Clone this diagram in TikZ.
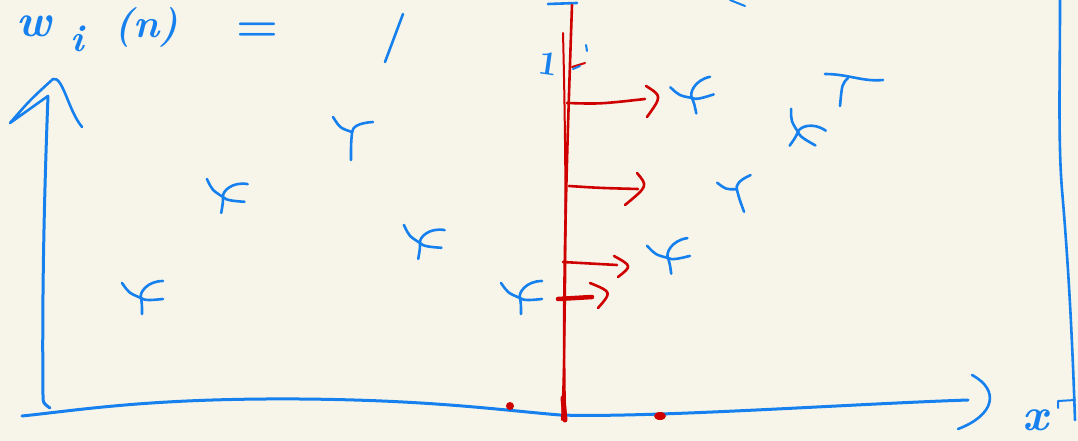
\documentclass[tikz,border=0pt]{standalone}
\usetikzlibrary{calc}
\definecolor{paper}{RGB}{247,245,234}
\definecolor{inkblue}{RGB}{22,128,238}
\definecolor{inkred}{RGB}{206,0,0}

\tikzset{
  bluepen/.style={draw=inkblue, line width=2.6pt, line cap=round, line join=round},
  redpen/.style={draw=inkred, line width=2.6pt, line cap=round, line join=round},
  hand/.style={text=inkblue, inner sep=0pt, font=\fontsize{46}{46}\selectfont\bfseries\itshape},
  % a sample point, written as two crossing strokes
  cross/.pic={
    \draw[bluepen] (-19,-15) .. controls (-12,-5) .. (0,0) .. controls (1,6) .. (1,16);
    \draw[bluepen] (22,-17) .. controls (6,-17) and (-2,-5) .. (0,0) .. controls (3,3) and (12,2) .. (22,1);
  },
  ymark/.pic={
    \draw[bluepen] (-19,-16) .. controls (-12,-5) .. (0,-1);
    \draw[bluepen] (21,-11) .. controls (6,-10) and (0,-6) .. (0,0) .. controls (-1,10) .. (-1,27);
  },
  tmark/.pic={
    \draw[bluepen] (-23,-4) .. controls (0,-4) and (15,4) .. (35,2);
    \draw[bluepen] (0,0) .. controls (-6,6) .. (-8,28);
  }
}

\begin{document}
\begin{tikzpicture}[x=1pt, y=-1pt]
\fill[paper] (0,0) rectangle (1078,441);
\useasboundingbox (0,0) rectangle (1078,441);
\clip (0,0) rectangle (1078,441);

% ---------------- handwritten heading ----------------
\node[hand, anchor=base west] (wsym) at (16,37) {w};
\node[hand, anchor=base west, font=\fontsize{38}{38}\selectfont\bfseries\itshape] (isub) at (70,52) {i};
\node[hand, anchor=base west, font=\fontsize{40}{40}\selectfont\bfseries\itshape] (nsup) at (114,38) {(n)};
\node[hand, anchor=base west, font=\fontsize{48}{48}\selectfont\bfseries] (eqsign) at (236,42) {=};
\node[hand, anchor=base west, font=\fontsize{34}{34}\selectfont\bfseries, rotate=-8] (onelabel) at (537,73) {1};
\draw[bluepen] (385,62) -- (403,14);
\draw[bluepen] (548,4) -- (577,3);
\draw[bluepen, line width=2pt] (730,0) .. controls (738,3) .. (745,6);
\draw[bluepen, line width=2pt] (586,45) -- (587,51);

% ---------------- axes and frame ----------------
\coordinate (origin) at (43,405);
\coordinate (ytop) at (48,96);
\coordinate (xend) at (968,400);
\draw[bluepen, line width=3pt] (ytop) .. controls (44,200) and (42,300) .. (43,395) .. controls (43,403) .. (50,408);
\draw[bluepen] (ytop) -- (10,123) .. controls (30,100) .. (53,79) .. controls (63,76) and (68,110) .. (82,127);
\draw[bluepen, line width=3pt] (22,416) .. controls (80,410) and (150,398) .. (300,399)
  .. controls (430,400) and (500,410) .. (560,415) .. controls (650,418) and (850,404) .. (xend);
\draw[bluepen] (972,375) .. controls (1000,390) and (995,415) .. (958,429);
\draw[bluepen] (1060,-2) .. controls (1060,80) and (1058,140) .. (1062,190) .. controls (1068,260) and (1072,330) .. (1075,420);
\draw[bluepen, line width=2pt] (1058,408) -- (1058,401) -- (1075,400);
\node[hand, anchor=base west, font=\fontsize{46}{46}\selectfont\bfseries\itshape] (xlabel) at (1022,430) {x};

% ---------------- sample points ----------------
\pic at (141,298) {cross};
\pic[rotate=-10] at (223,197) {cross};
\pic at (352,133) {ymark};
\pic[rotate=-10] at (420,243) {cross};
\pic at (520,298) {cross};
\pic[rotate=12] at (692,98) {cross};
\pic[rotate=-35] at (798,132) {cross};
\pic at (848,78) {tmark};
\pic[rotate=20, scale=0.85] at (737,190) {ymark};
\pic[rotate=8] at (668,258) {cross};

% ---------------- red split line with arrows ----------------
\coordinate (rtop) at (572,5);
\coordinate (rbot) at (565,420);
\draw[redpen] (rtop) .. controls (567,150) and (562,300) .. (rbot);
\draw[redpen, line width=2pt] (563,33) .. controls (566,150) and (567,300) .. (562,420);
\draw[redpen, line width=5pt] (563,398) -- (565,420);
\draw[redpen, line width=2pt] (572,67) -- (585,63);
\draw[bluepen, line width=2pt] (573,69) -- (580,66);

\coordinate (r1) at (567,103);
\coordinate (r2) at (569,186);
\coordinate (r3) at (563,262);
\coordinate (r4) at (558,299);
\draw[redpen] (r1) .. controls (600,104) .. (645,99);
\draw[redpen] (646,86) .. controls (662,96) .. (647,117);
\draw[redpen] (r2) .. controls (600,188) .. (638,189);
\draw[redpen] (637,173) .. controls (648,186) .. (625,205);
\draw[redpen] (r3) .. controls (590,264) .. (617,265);
\draw[redpen] (614,256) .. controls (632,266) .. (618,277);
\draw[redpen, line width=4.5pt] (r4) -- (592,297);
\draw[redpen] (590,283) .. controls (612,292) .. (598,308);

\fill[inkred] (510,406) circle (4);
\fill[inkred] (660,416) ellipse (6 and 4);
\end{tikzpicture}
\end{document}
